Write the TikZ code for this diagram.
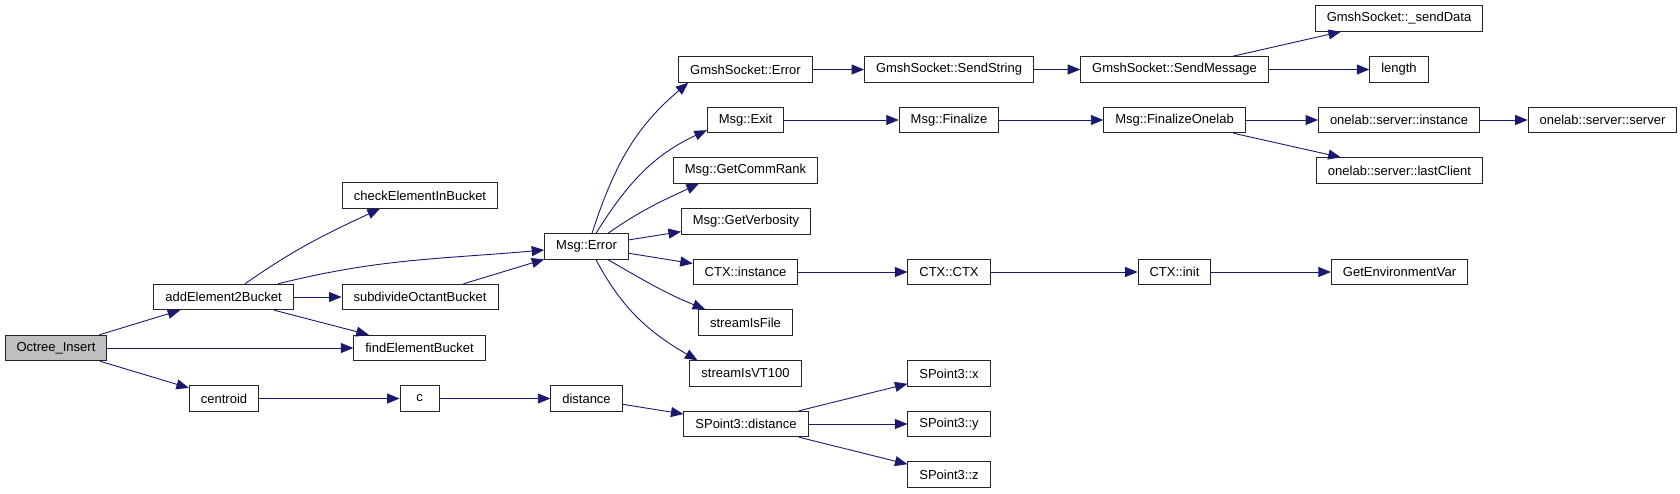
\documentclass[tikz,border=0pt]{standalone}
\usepackage{fontspec}
\setmainfont{Liberation Sans}
\usepackage{xcolor}
\usepackage{tikz}
\usetikzlibrary{arrows.meta}

\definecolor{edgeblue}{HTML}{191970}
\definecolor{rootgray}{HTML}{BFBFBF}

\begin{document}
\begin{tikzpicture}[
    x=1pt, y=1pt,
    fn/.style = {
        rectangle, draw=black!85, line width=0.9pt, fill=white,
        minimum width=39pt, minimum height=25.5pt, inner xsep=11.5pt,
        font=\fontsize{13}{15}\selectfont
    },
    rootfn/.style = {fn, fill=rootgray},
    arrow/.style = {
        -{Triangle[length=12.5pt, width=10pt]}, line width=0.9pt, color=edgeblue
    }
]
\useasboundingbox (0,0) rectangle (1680,-493);

% ── Caller ──
\node[rootfn] (octree) at (56, -348) {Octree\_Insert};

% ── Octree helpers ──
\node[fn] (addbucket)   at (223.5, -297)   {addElement2Bucket};
\node[fn] (centroid)    at (224, -398.5)   {centroid};
\node[fn] (checkbucket) at (420, -195.5)   {checkElementInBucket};
\node[fn] (subdivide)   at (420, -297)     {subdivideOctantBucket};
\node[fn] (findbucket)  at (419.5, -348)   {findElementBucket};
\node[fn] (cfun)        at (419.5, -398.5) {c};
\node[fn] (msgerror)    at (586.5, -246.5) {Msg::Error};
\node[fn] (distfun)     at (586.5, -398.5) {distance};

% ── Called from Msg::Error ──
\node[fn] (gserror)   at (745.5, -69.5)  {GmshSocket::Error};
\node[fn] (msgexit)   at (745.5, -120)   {Msg::Exit};
\node[fn] (commrank)  at (745.5, -170.5) {Msg::GetCommRank};
\node[fn] (verbosity) at (746, -221.5)   {Msg::GetVerbosity};
\node[fn] (ctxinst)   at (745.5, -272)   {CTX::instance};
\node[fn] (isfile)    at (745.5, -322.5) {streamIsFile};
\node[fn] (isvt)      at (745.5, -373.5) {streamIsVT100};
\node[fn] (spdist)    at (746, -424)     {SPoint3::distance};

% ── Next level ──
\node[fn] (sendstring) at (949, -69.5)  {GmshSocket::SendString};
\node[fn] (finalize)   at (949, -120)   {Msg::Finalize};
\node[fn] (ctxctx)     at (949, -272)   {CTX::CTX};
\node[fn] (spx)        at (949, -373.5) {SPoint3::x};
\node[fn] (spy)        at (949, -424)   {SPoint3::y};
\node[fn] (spz)        at (949, -474.5) {SPoint3::z};

\node[fn] (sendmsg)   at (1174.5, -69.5) {GmshSocket::SendMessage};
\node[fn] (finonelab) at (1174.5, -120)  {Msg::FinalizeOnelab};
\node[fn] (ctxinit)   at (1174.5, -272)  {CTX::init};

\node[fn] (senddata)   at (1399, -18.5)    {GmshSocket::\_sendData};
\node[fn] (lengthfn)   at (1399, -69.5)    {length};
\node[fn] (srvinst)    at (1399, -120)     {onelab::server::instance};
\node[fn] (lastclient) at (1399.5, -170.5) {onelab::server::lastClient};
\node[fn] (getenv)     at (1399.5, -272)   {GetEnvironmentVar};

\node[fn] (srvserver) at (1602.5, -120) {onelab::server::server};

% ── Arrows: Octree_Insert ──
\draw[arrow] (octree) -- (addbucket);
\draw[arrow] (octree) -- (findbucket);
\draw[arrow] (octree) -- (centroid);

% ── Arrows: addElement2Bucket ──
\draw[arrow] ([xshift=21.5pt]addbucket.north) to[out=35, in=-155] ([xshift=38pt]checkbucket.south west);
\draw[arrow] ([xshift=54.5pt]addbucket.north) to[out=14, in=-175] ([yshift=-3.5pt]msgerror.west);
\draw[arrow] (addbucket) -- (subdivide);
\draw[arrow] (addbucket) -- (findbucket);
\draw[arrow] (subdivide) -- (msgerror);

% ── Arrows: centroid chain ──
\draw[arrow] (centroid) -- (cfun);
\draw[arrow] (cfun) -- (distfun);
\draw[arrow] (distfun) -- (spdist);

% ── Arrows: Msg::Error ──
\draw[arrow] ([xshift=5.5pt]msgerror.north) to[out=72, in=-140] ([xshift=10pt]gserror.south west);
\draw[arrow] ([xshift=9.5pt]msgerror.north) to[out=58, in=-155] ([yshift=3pt]msgexit.south west);
\draw[arrow] ([xshift=21.5pt]msgerror.north) to[out=35, in=-155] ([xshift=26pt]commrank.south west);
\draw[arrow] (msgerror) -- (verbosity);
\draw[arrow] (msgerror) -- (ctxinst);
\draw[arrow] ([xshift=21.5pt]msgerror.south) to[out=-30, in=158] ([xshift=7pt]isfile.north west);
\draw[arrow] ([xshift=9.5pt]msgerror.south) to[out=-62, in=150] ([xshift=8pt]isvt.north west);

% ── Arrows: socket chain ──
\draw[arrow] (gserror) -- (sendstring);
\draw[arrow] (sendstring) -- (sendmsg);
\draw[arrow] (sendmsg) -- (senddata);
\draw[arrow] (sendmsg) -- (lengthfn);

% ── Arrows: finalize chain ──
\draw[arrow] (msgexit) -- (finalize);
\draw[arrow] (finalize) -- (finonelab);
\draw[arrow] (finonelab) -- (srvinst);
\draw[arrow] (finonelab) -- (lastclient);
\draw[arrow] (srvinst) -- (srvserver);

% ── Arrows: CTX chain ──
\draw[arrow] (ctxinst) -- (ctxctx);
\draw[arrow] (ctxctx) -- (ctxinit);
\draw[arrow] (ctxinit) -- (getenv);

% ── Arrows: SPoint3 ──
\draw[arrow] (spdist) -- (spx);
\draw[arrow] (spdist) -- (spy);
\draw[arrow] (spdist) -- (spz);

\end{tikzpicture}
\end{document}
